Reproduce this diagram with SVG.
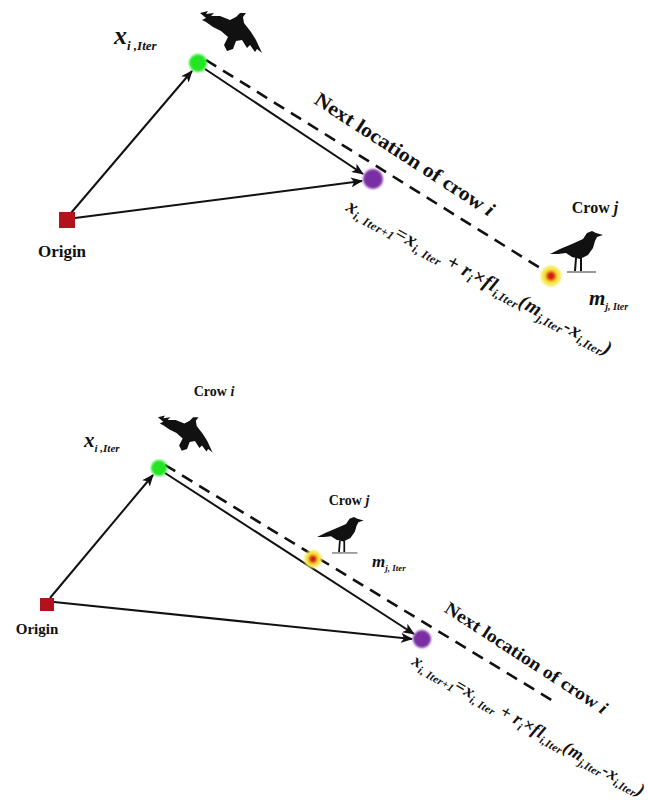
<svg xmlns="http://www.w3.org/2000/svg" width="648" height="807" viewBox="0 0 648 807">
  <style>
    .lbl { font-family: "Liberation Serif", "DejaVu Serif", serif; font-weight: bold; fill: #111; }
    .math { font-family: "Liberation Serif", "DejaVu Serif", serif; font-weight: bold; font-style: italic; fill: #111; }
    .arrow { stroke: #111; stroke-width: 2; fill: none; marker-end: url(#head); }
    .dash { stroke: #111; stroke-width: 2.6; fill: none; stroke-dasharray: 12 8; }
    .crow { fill: #111; }
  </style>
  <defs>
    <marker id="head" viewBox="0 0 12 10" refX="11" refY="5" markerWidth="12" markerHeight="10" markerUnits="userSpaceOnUse" orient="auto">
      <path d="M0,0 L12,5 L0,10 L3,5 Z" fill="#111"/>
    </marker>
    <filter id="soft" x="-50%" y="-50%" width="200%" height="200%">
      <feGaussianBlur stdDeviation="0.9"/>
    </filter>
    <radialGradient id="sun" cx="0.5" cy="0.5" r="0.5">
      <stop offset="0" stop-color="#d0121a"/>
      <stop offset="0.3" stop-color="#d0121a"/>
      <stop offset="0.45" stop-color="#f08a1c"/>
      <stop offset="0.6" stop-color="#f4e630"/>
      <stop offset="1" stop-color="#f6ee7a"/>
    </radialGradient>
    <!-- flying crow silhouette, about 62 x 46 -->
    <path id="flyingCrow" d="M0,6 L8,4 L6,7 L14,6 L11,9 L20,9 L30,13 L36,10 L40,6 L46,6 L43,10 L44,16 L51,25 L56,33 L62,46 L57,42 L55,45 L50,38 L47,41 L42,33 L36,34 L33,42 L27,44 L24,38 L28,30 L21,24 L13,20 L6,15 L2,13 L6,11 Z"/>
    <!-- perched crow silhouette, about 53 x 42 -->
    <g id="perchedCrow">
      <path d="M53,5 L46,3 L42,1 L37,3 L33,9 L22,14 L10,19 L0,24 L8,24 L16,23 L22,27 L30,29 L38,25 L43,18 L45,11 L47,7 Z"/>
      <path d="M26,28 L25,41 M31,28 L31,41" stroke="#111" stroke-width="2"/>
      <path d="M17,42 L46,42" stroke="#333" stroke-width="1"/>
    </g>
  </defs>

  <rect width="648" height="807" fill="#ffffff"/>

  <!-- ===== upper scene ===== -->
  <g id="top-connectors">
    <line class="dash" x1="206" y1="60" x2="545" y2="271"/>
    <line class="arrow" x1="71" y1="213" x2="192" y2="71"/>
    <line class="arrow" x1="75" y1="218" x2="362" y2="181"/>
    <line class="arrow" x1="205" y1="69" x2="363" y2="174"/>
  </g>

  <g id="top-origin">
    <rect x="59" y="212" width="16" height="16" fill="#b3111b"/>
    <text class="lbl" x="62" y="257" font-size="17" text-anchor="middle">Origin</text>
  </g>

  <g id="top-crow-i">
    <use href="#flyingCrow" class="crow" x="200" y="7"/>
    <circle cx="198" cy="63" r="9" fill="#22e622" filter="url(#soft)"/>
    <text class="math" x="114" y="44" font-size="26">x<tspan font-size="13" dy="6">i ,Iter</tspan></text>
  </g>

  <g id="top-next">
    <circle cx="373" cy="179" r="10" fill="#7a2ea3" filter="url(#soft)"/>
    <text class="lbl" font-size="20" text-anchor="middle" textLength="210" lengthAdjust="spacingAndGlyphs" transform="translate(401,160) rotate(33)">Next location of crow <tspan font-style="italic">i</tspan></text>
    <text class="math" font-size="20" textLength="300" lengthAdjust="spacing" transform="translate(345,210) rotate(29)">x<tspan font-size="12" dy="4">i, Iter+1</tspan><tspan dy="-4">=x</tspan><tspan font-size="12" dy="4">i, Iter</tspan><tspan dy="-4"> + r</tspan><tspan font-size="12" dy="4">i</tspan><tspan dy="-4">×fl</tspan><tspan font-size="12" dy="4">i,Iter</tspan><tspan dy="-4">(m</tspan><tspan font-size="12" dy="4">j,Iter</tspan><tspan dy="-4">-x</tspan><tspan font-size="12" dy="4">i,Iter</tspan><tspan dy="-4">)</tspan></text>
  </g>

  <g id="top-crow-j">
    <use href="#perchedCrow" class="crow" x="550" y="230"/>
    <circle cx="551" cy="276" r="10.5" fill="url(#sun)" filter="url(#soft)"/>
    <text class="lbl" x="595" y="213" font-size="16" text-anchor="middle">Crow <tspan font-style="italic">j</tspan></text>
    <text class="math" x="589" y="305" font-size="21">m<tspan font-size="10" dy="5">j, Iter</tspan></text>
  </g>

  <!-- ===== lower scene ===== -->
  <g id="bottom-connectors">
    <line class="dash" x1="165" y1="465" x2="558" y2="704" stroke-width="2.4" stroke-dasharray="10 7"/>
    <line class="arrow" x1="50" y1="598" x2="153" y2="475"/>
    <line class="arrow" x1="54" y1="602" x2="412" y2="639"/>
    <line class="arrow" x1="165" y1="473" x2="414" y2="634"/>
  </g>

  <g id="bottom-origin">
    <rect x="40" y="598" width="14" height="13" fill="#b3111b"/>
    <text class="lbl" x="37" y="634" font-size="15" text-anchor="middle">Origin</text>
  </g>

  <g id="bottom-crow-i">
    <text class="lbl" x="214" y="396" font-size="14" text-anchor="middle">Crow <tspan font-style="italic">i</tspan></text>
    <use href="#flyingCrow" class="crow" transform="translate(158,412) scale(0.88)"/>
    <circle cx="159" cy="468" r="8" fill="#22e622" filter="url(#soft)"/>
    <text class="math" x="84" y="447" font-size="21">x<tspan font-size="11" dy="5">i ,Iter</tspan></text>
  </g>

  <g id="bottom-crow-j">
    <text class="lbl" x="349" y="505" font-size="14" text-anchor="middle">Crow <tspan font-style="italic">j</tspan></text>
    <use href="#perchedCrow" class="crow" transform="translate(317,516) scale(0.88)"/>
    <circle cx="313" cy="559" r="9" fill="url(#sun)" filter="url(#soft)"/>
    <text class="math" x="372" y="567" font-size="17">m<tspan font-size="9" dy="4">j, Iter</tspan></text>
  </g>

  <g id="bottom-next">
    <circle cx="422" cy="639" r="9" fill="#7a2ea3" filter="url(#soft)"/>
    <text class="lbl" font-size="18" text-anchor="middle" textLength="190" lengthAdjust="spacingAndGlyphs" transform="translate(523,663) rotate(33)">Next location of crow <tspan font-style="italic">i</tspan></text>
    <text class="math" font-size="18" textLength="265" lengthAdjust="spacing" transform="translate(411,664) rotate(30)">x<tspan font-size="11" dy="4">i, Iter+1</tspan><tspan dy="-4">=x</tspan><tspan font-size="11" dy="4">i, Iter</tspan><tspan dy="-4"> + r</tspan><tspan font-size="11" dy="4">i</tspan><tspan dy="-4">×fl</tspan><tspan font-size="11" dy="4">i,Iter</tspan><tspan dy="-4">(m</tspan><tspan font-size="11" dy="4">j,Iter</tspan><tspan dy="-4">-x</tspan><tspan font-size="11" dy="4">i,Iter</tspan><tspan dy="-4">)</tspan></text>
  </g>
</svg>
